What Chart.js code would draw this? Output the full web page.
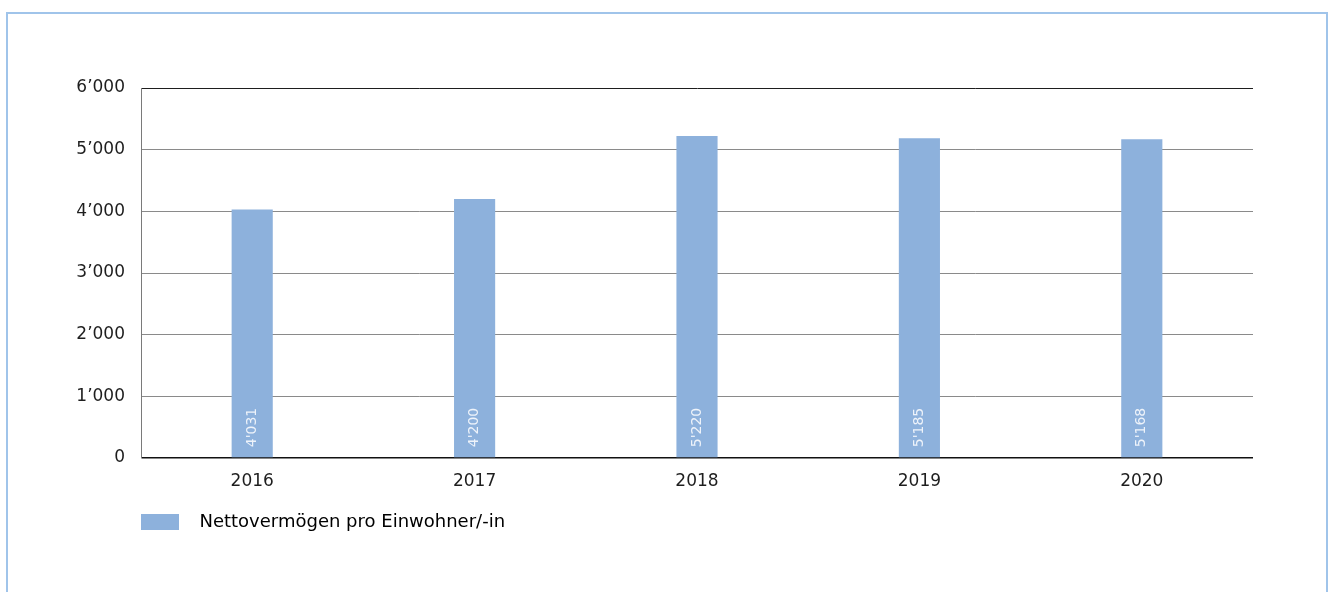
<!DOCTYPE html>
<html>
<head>
<meta charset="utf-8">
<script src="https://cdn.jsdelivr.net/npm/chart.js@4/dist/chart.umd.min.js"></script>
<style>
  html, body { margin: 0; padding: 0; background: #ffffff; overflow: hidden; }
  #frame { position: absolute; left: 6px; top: 12px; width: 1318px; height: 640px; border: 2px solid #a0c4ea; box-sizing: content-box; }
  #wrap { position: absolute; left: 0; top: 0; width: 1335px; height: 592px; }
</style>
</head>
<body>
<div id="frame"></div>
<div id="wrap"><canvas id="c" width="1335" height="592"></canvas></div>
<script>
// ---- data ----
const categories = ['2016', '2017', '2018', '2019', '2020'];
const nettovermoegen = [4031, 4200, 5220, 5185, 5168];
const seriesLabel = 'Nettovermögen pro Einwohner/-in';
const yTickValues = [0, 1000, 2000, 3000, 4000, 5000, 6000];
const yTickLabels = ['0', '1’000', '2’000', '3’000', '4’000', '5’000', '6’000'];
const dataLabels = ["4'031", "4'200", "5'220", "5'185", "5'168"];

const FONT = 'DejaVu Sans';

const valueLabelPlugin = {
  id: 'valueLabels',
  afterDatasetsDraw(chart) {
    const ctx = chart.ctx;
    const meta = chart.getDatasetMeta(0);
    ctx.save();
    ctx.font = '14px "' + FONT + '"';
    ctx.fillStyle = '#eef3fa';
    ctx.textAlign = 'left';
    ctx.textBaseline = 'middle';
    meta.data.forEach((bar, i) => {
      ctx.save();
      ctx.translate(bar.x, bar.base - 10);
      ctx.rotate(-Math.PI / 2);
      ctx.fillText(dataLabels[i], 0, 0);
      ctx.restore();
    });
    ctx.restore();
  }
};

const legendShiftPlugin = {
  id: 'legendShift',
  beforeDraw(chart) {
    const L = chart.legend;
    if (!L) return;
    const dx = (chart.chartArea.left - 10) - L.left;
    L.left += dx; L.right += dx;
    const dy = 503 - L.top;
    L.top += dy; L.bottom += dy;
  }
};

new Chart(document.getElementById('c'), {
  type: 'bar',
  data: {
    labels: categories,
    datasets: [{
      label: seriesLabel,
      data: nettovermoegen,
      backgroundColor: '#8db1dc',
      borderWidth: 0,
      barPercentage: 0.185,
      categoryPercentage: 1.0
    }]
  },
  options: {
    responsive: false,
    animation: false,
    devicePixelRatio: 1,
    layout: { padding: { left: 0, top: 88, right: 82, bottom: 56 } },
    plugins: {
      tooltip: { enabled: false },
      legend: {
        position: 'bottom',
        align: 'start',
        labels: {
          boxWidth: 38,
          boxHeight: 16,
          color: '#1e1e1e',
          font: { family: FONT, size: 18 },
          generateLabels(chart) {
            return [{
              text: '  ' + seriesLabel,
              fillStyle: '#8db1dc',
              strokeStyle: '#8db1dc',
              lineWidth: 0,
              hidden: false,
              datasetIndex: 0
            }];
          }
        }
      }
    },
    scales: {
      x: {
        grid: { display: false, drawTicks: false },
        border: { display: false },
        ticks: { color: '#1e1e1e', font: { family: FONT, size: 17 }, padding: 13 },
        afterFit(scale) { scale.height = 40; }
      },
      y: {
        min: 0,
        max: 6000,
        afterBuildTicks(scale) { scale.ticks = yTickValues.map(v => ({ value: v })); },
        afterFit(scale) { scale.width = 141; },
        grid: {
          drawTicks: false,
          color(ctx) {
            const v = ctx.tick && ctx.tick.value;
            if (v === 0) return '#111111';
            if (v === 6000) return '#1e1e1e';
            return '#8a8a8a';
          },
          lineWidth(ctx) {
            const v = ctx.tick && ctx.tick.value;
            return v === 0 ? 1.5 : 1;
          }
        },
        border: { display: true, color: '#7a7a7a', width: 1 },
        ticks: {
          color: '#1e1e1e',
          font: { family: FONT, size: 17 },
          padding: 16,
          callback(value) {
            const i = yTickValues.indexOf(value);
            return i >= 0 ? yTickLabels[i] : '';
          }
        }
      }
    }
  },
  plugins: [valueLabelPlugin, legendShiftPlugin]
});
</script>
</body>
</html>
